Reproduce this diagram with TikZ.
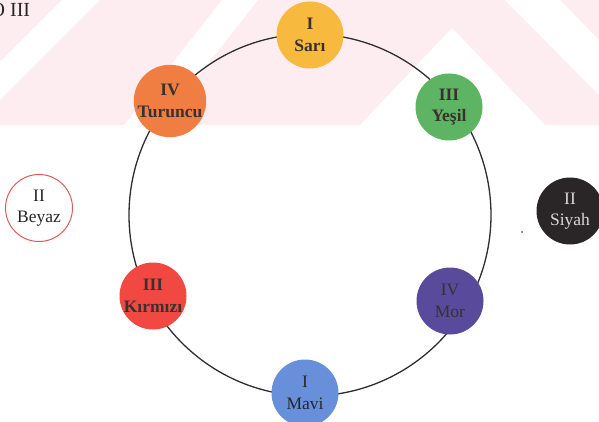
\documentclass[tikz,border=0pt]{standalone}
\usepackage{fontspec}
\setmainfont{Liberation Serif}
\definecolor{wm}{HTML}{FDEDF0}
\definecolor{linecol}{HTML}{2E2E2E}
\definecolor{txt}{HTML}{3A3030}
\definecolor{cyellow}{HTML}{F7BA3E}
\definecolor{cgreen}{HTML}{5DB462}
\definecolor{corange}{HTML}{F07E42}
\definecolor{cred}{HTML}{F14842}
\definecolor{cpurple}{HTML}{5A4A9C}
\definecolor{cblue}{HTML}{6890DA}
\definecolor{cblack}{HTML}{2A2526}
\definecolor{cwhiteline}{HTML}{E05A5A}
\begin{document}
\begin{tikzpicture}[x=1pt,y=-1pt,
  colnode/.style={circle,minimum size=67pt,inner sep=0pt,align=center,
    font=\fontsize{17.5}{21.5}\selectfont,text=txt},
  boldnode/.style={colnode,font=\fontsize{17.5}{21.5}\selectfont\bfseries},
  ring/.style={line width=1.3pt,draw=linecol}
]
\useasboundingbox (0,0) rectangle (599,422);
% faint watermark
\fill[wm] (0,0) rectangle (599,125);
\fill[white] (62,0) -- (100,0) -- (-25,125) -- (-63,125) -- cycle;
\fill[white] (222,0) -- (258,0) -- (160,125) -- (124,125) -- cycle;
\fill[white] (452,28) -- (545,125) -- (360,125) -- cycle;
\fill[white] (505,0) -- (560,0) -- (599,40) -- (599,95) -- cycle;
% header text
\node[anchor=base west,inner sep=0pt,font=\fontsize{20}{24}\selectfont,text=black!85] (hdr) at (-9.5,17) {O III};
% ring
\coordinate (ctr) at (310,215);
\draw[ring] (ctr) circle[radius=181];
% nodes
\node[boldnode,fill=cyellow] (sari) at (310,35) {I\\Sarı};
\node[boldnode,fill=cgreen] (yesil) at (449,107) {III\\Yeşil};
\node[boldnode,fill=corange] (turuncu) at (170,101) {IV\\Turuncu};
\node[boldnode,fill=cred] (kirmizi) at (153,296) {III\\Kırmızı};
\node[colnode,fill=cpurple,text=black!80] (mor) at (450,301) {IV\\Mor};
\node[colnode,fill=cblue,text=black!85] (mavi) at (305,393) {I\\Mavi};
\node[colnode,fill=white,draw=cwhiteline,line width=1pt,text=black!85] (beyaz) at (39,208) {II\\Beyaz};
\node[colnode,fill=cblack,text=white!85!black] (siyah) at (570,211) {II\\Siyah};
\fill[black!70] (522,232) circle[radius=1];
\end{tikzpicture}
\end{document}
